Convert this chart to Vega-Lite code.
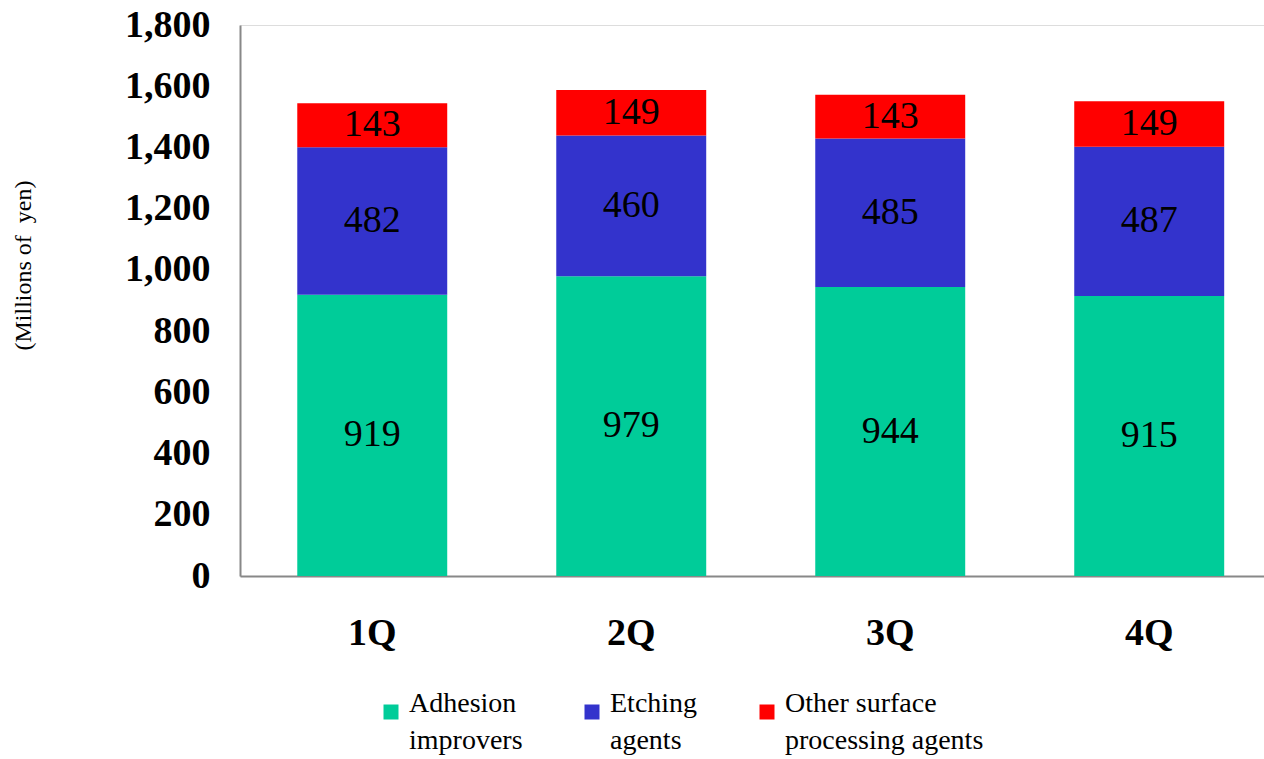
{
  "$schema": "https://vega.github.io/schema/vega-lite/v6.json",
  "width": 1024,
  "height": 551,
  "autosize": {"type": "none"},
  "padding": {"left": 240, "top": 25, "right": 0, "bottom": 183},
  "background": "white",
  "config": {"style": {"guide-label": {"lineHeight": 37}}},
  "data": {
    "values": [
      {"quarter": "1Q", "category": "Adhesion improvers", "order": 1, "value": 919},
      {"quarter": "1Q", "category": "Etching agents", "order": 2, "value": 482},
      {"quarter": "1Q", "category": "Other surface processing agents", "order": 3, "value": 143},
      {"quarter": "2Q", "category": "Adhesion improvers", "order": 1, "value": 979},
      {"quarter": "2Q", "category": "Etching agents", "order": 2, "value": 460},
      {"quarter": "2Q", "category": "Other surface processing agents", "order": 3, "value": 149},
      {"quarter": "3Q", "category": "Adhesion improvers", "order": 1, "value": 944},
      {"quarter": "3Q", "category": "Etching agents", "order": 2, "value": 485},
      {"quarter": "3Q", "category": "Other surface processing agents", "order": 3, "value": 143},
      {"quarter": "4Q", "category": "Adhesion improvers", "order": 1, "value": 915},
      {"quarter": "4Q", "category": "Etching agents", "order": 2, "value": 487},
      {"quarter": "4Q", "category": "Other surface processing agents", "order": 3, "value": 149}
    ]
  },
  "encoding": {
    "x": {
      "field": "quarter",
      "type": "nominal",
      "sort": ["1Q", "2Q", "3Q", "4Q"],
      "scale": {"paddingInner": 0.421, "paddingOuter": 0.1874, "align": 0.59},
      "axis": {
        "title": null,
        "labelAngle": 0,
        "labelFont": "Liberation Serif",
        "labelFontSize": 38,
        "labelFontWeight": "bold",
        "labelColor": "black",
        "labelPadding": 38,
        "ticks": false,
        "domainColor": "#888888",
        "domainWidth": 2
      }
    },
    "y": {
      "field": "value",
      "type": "quantitative",
      "stack": "zero",
      "scale": {"domain": [0, 1800]},
      "axis": {
        "values": [0, 200, 400, 600, 800, 1000, 1200, 1400, 1600, 1800],
        "format": ",d",
        "grid": false,
        "ticks": false,
        "labelFont": "Liberation Serif",
        "labelFontSize": 38,
        "labelFontWeight": "bold",
        "labelColor": "black",
        "labelPadding": 30,
        "domainColor": "#888888",
        "domainWidth": 2,
        "title": "(Millions of\u00a0 yen)",
        "titleFont": "Liberation Serif",
        "titleFontWeight": "normal",
        "titleFontSize": 24,
        "titleColor": "black",
        "titleX": -217,
        "titleY": 240,
        "titleBaseline": "middle",
        "titleAlign": "center"
      }
    },
    "order": {"field": "order", "type": "quantitative", "sort": "ascending"}
  },
  "layer": [
    {
      "mark": {"type": "bar"},
      "encoding": {
        "color": {
          "field": "category",
          "type": "nominal",
          "sort": ["Adhesion improvers", "Etching agents", "Other surface processing agents"],
          "scale": {
            "domain": ["Adhesion improvers", "Etching agents", "Other surface processing agents"],
            "range": ["#00CC99", "#3333CC", "#FF0000"]
          },
          "legend": {
            "title": null,
            "orient": "none",
            "direction": "horizontal",
            "legendX": 137,
            "legendY": 673,
            "symbolType": "square",
            "symbolSize": 225,
            "symbolStrokeWidth": 0,
            "symbolOpacity": 1,
            "labelFont": "Liberation Serif",
            "labelFontSize": 28,
            "labelColor": "black",
            "labelLimit": 400,
            "labelOffset": 4,
            "labelBaseline": "alphabetic",
            "columnPadding": 55,
            "labelExpr": "datum.label == 'Adhesion improvers' ? ['Adhesion', 'improvers'] : datum.label == 'Etching agents' ? ['Etching', 'agents'] : ['Other surface', 'processing agents']"
          }
        }
      }
    },
    {
      "mark": {"type": "text", "font": "Liberation Serif", "fontSize": 38, "color": "black", "baseline": "middle"},
      "encoding": {
        "y": {"field": "value", "type": "quantitative", "stack": "zero", "bandPosition": 0.5},
        "text": {"field": "value", "type": "quantitative"}
      }
    }
  ]
}
